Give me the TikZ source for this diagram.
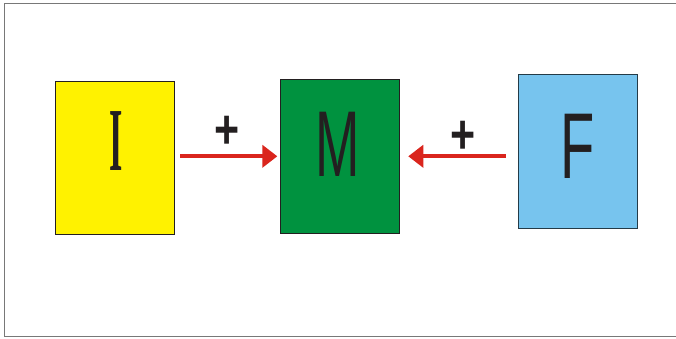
\documentclass[tikz,border=0pt]{standalone}
\usepackage{fontspec}
\setmainfont{Liberation Sans}
\newfontfamily\serifI{Liberation Serif}
\usetikzlibrary{arrows.meta}
\definecolor{boxyellow}{RGB}{255,242,0}
\definecolor{boxgreen}{RGB}{0,146,63}
\definecolor{boxblue}{RGB}{119,196,238}
\definecolor{arrred}{RGB}{218,37,29}
\definecolor{inkblack}{RGB}{35,31,32}
\definecolor{framegray}{RGB}{120,120,120}
\tikzset{
  blockbox/.style={draw=inkblack, line width=0.9pt, rectangle, inner sep=0pt,
    minimum width=119pt, minimum height=154pt},
  letter/.style={inner sep=0pt, text=inkblack},
  plussign/.style={inner sep=0pt, text=inkblack, font=\bfseries\fontsize{43}{43}\selectfont},
  redarrow/.style={draw=arrred, line width=4pt, -{Triangle[length=15pt,width=22pt]}},
}
\begin{document}
\begin{tikzpicture}[x=1pt,y=-1pt]
\useasboundingbox (0,0) rectangle (676,338);
\fill[white] (0,0) rectangle (676,338);
\draw[framegray, line width=1.2pt] (680,3.5) -- (4.5,3.5) -- (4.5,336.5) -- (680,336.5);
\node[blockbox, fill=boxyellow, minimum height=153pt] (I) at (114.5,157.5) {};
\node[blockbox, fill=boxgreen] (M) at (339.8,156.3) {};
\node[blockbox, fill=boxblue, draw=black!70!boxblue] (F) at (577.8,151.8) {};
\node[letter] (Il) at (116,141.5) {\scalebox{0.38}[1]{\serifI\bfseries\fontsize{90}{90}\selectfont I}};
\node[letter] (Ml) at (338,144) {\scalebox{0.57}[1]{\fontsize{93.5}{93.5}\selectfont M}};
\node[letter] (Fl) at (578,146.5) {\scalebox{0.6}[1]{\fontsize{93.5}{93.5}\selectfont F}};
\node[plussign] (p1) at (226.7,132.7) {\scalebox{1}[1.28]{+}};
\node[plussign] (p2) at (463.3,137) {\scalebox{1}[1.28]{+}};
\draw[redarrow, shorten <=6pt, shorten >=2.5pt] (I.east |- M.west) -- (M.west);
\draw[redarrow, shorten <=12pt, shorten >=8.5pt] (F.west |- M.east) -- (M.east);
\end{tikzpicture}
\end{document}
